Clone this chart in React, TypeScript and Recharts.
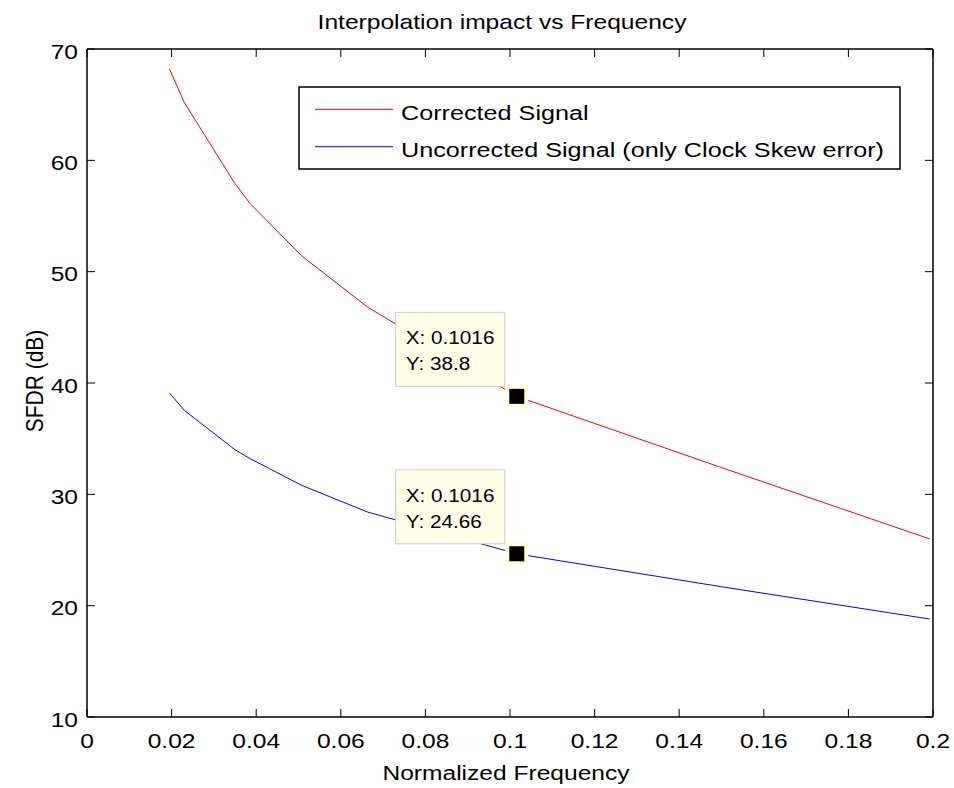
import React from 'react';
import { LineChart, Line, XAxis, YAxis, ReferenceDot } from 'recharts';

// ---- data ----
const freq = [0.0195, 0.023, 0.035, 0.0386, 0.0508, 0.0664, 0.1016, 0.15, 0.1992];
const corrected = [68.2, 65.2, 57.9, 56.1, 51.4, 46.8, 38.8, 32.4, 26.0];
const uncorrected = [39.1, 37.55, 34.0, 33.2, 30.8, 28.4, 24.66, 21.7, 18.8];
const seriesNames = ['Corrected Signal', 'Uncorrected Signal (only Clock Skew error)'];
const seriesKeys = ['corrected', 'uncorrected'];
const seriesColors = ['#ff0000', '#0000ff'];
const xTicks = [0, 0.02, 0.04, 0.06, 0.08, 0.1, 0.12, 0.14, 0.16, 0.18, 0.2];
const xTickLabels = ['0', '0.02', '0.04', '0.06', '0.08', '0.1', '0.12', '0.14', '0.16', '0.18', '0.2'];
const yTicks = [10, 20, 30, 40, 50, 60, 70];
const yTickLabels = ['10', '20', '30', '40', '50', '60', '70'];
const tipIndex = 6;
const tipXLabel = '0.1016';
const tipYLabels = ['38.8', '24.66'];
const title = 'Interpolation impact vs Frequency';
const xLabel = 'Normalized Frequency';
const yLabel = 'SFDR (dB)';

const data = freq.map((f, i) => ({ f, corrected: corrected[i], uncorrected: uncorrected[i] }));

const FONT = '"Liberation Sans", Arial, Helvetica, sans-serif';
const SX = 1.17;
const TICK_LEN = 8;

const BottomTick = (props: any) => {
  const { x, y, payload } = props;
  const idx = xTicks.indexOf(payload.value);
  return (
    <g>
      <line x1={x} y1={y} x2={x} y2={y - TICK_LEN} stroke="#000" strokeWidth={1} />
      <text
        transform={`translate(${x},${y + 31}) scale(${SX},1)`}
        textAnchor="middle"
        fontFamily={FONT}
        fontSize={21}
        fill="#000"
      >
        {idx >= 0 ? xTickLabels[idx] : String(payload.value)}
      </text>
    </g>
  );
};

const TopTick = (props: any) => {
  const { x, y } = props;
  return <line x1={x} y1={y} x2={x} y2={y + TICK_LEN} stroke="#000" strokeWidth={1} />;
};

const LeftTick = (props: any) => {
  const { x, y, payload } = props;
  const idx = yTicks.indexOf(payload.value);
  return (
    <g>
      <line x1={x} y1={y} x2={x + TICK_LEN} y2={y} stroke="#000" strokeWidth={1} />
      <text
        transform={`translate(${x - 9},${y + 9.5}) scale(${SX},1)`}
        textAnchor="end"
        fontFamily={FONT}
        fontSize={21}
        fill="#000"
      >
        {idx >= 0 ? yTickLabels[idx] : String(payload.value)}
      </text>
    </g>
  );
};

const RightTick = (props: any) => {
  const { x, y } = props;
  return <line x1={x} y1={y} x2={x - TICK_LEN} y2={y} stroke="#000" strokeWidth={1} />;
};

const makeTip = (yText: string) => (props: any) => {
  const { cx, cy } = props;
  if (cx == null || cy == null) return <g />;
  return (
    <g>
      <rect x={cx - 121} y={cy - 84} width={109} height={74} fill="#ffffe8" stroke="#cccccc" strokeWidth={1} />
      <text
        transform={`translate(${cx - 111},${cy - 52}) scale(1.12,1)`}
        fontFamily={FONT}
        fontSize={18.5}
        fill="#000"
      >
        {`X: ${tipXLabel}`}
      </text>
      <text
        transform={`translate(${cx - 111},${cy - 26}) scale(1.12,1)`}
        fontFamily={FONT}
        fontSize={18.5}
        fill="#000"
      >
        {`Y: ${yText}`}
      </text>
      <rect x={cx - 11.5} y={cy - 11.5} width={23} height={23} fill="#ffffe0" />
      <rect x={cx - 7.5} y={cy - 7.5} width={15} height={15} fill="#000" />
    </g>
  );
};

const axisLineStyle = { stroke: '#000', strokeWidth: 1.5 };

export default function App() {
  return (
    <div style={{ position: 'absolute', left: 0, top: 0, width: 954, height: 788, background: '#fff' }}>
      <LineChart width={954} height={788} data={data} margin={{ top: 48, right: 20, bottom: 70, left: 0 }}>
        <XAxis
          xAxisId="b"
          dataKey="f"
          type="number"
          domain={[0, 0.2]}
          ticks={xTicks}
          interval={0}
          height={1}
          tickSize={0}
          tickMargin={0}
          tickLine={false}
          axisLine={axisLineStyle}
          tick={<BottomTick />}
          allowDataOverflow
        />
        <XAxis
          xAxisId="t"
          dataKey="f"
          orientation="top"
          type="number"
          domain={[0, 0.2]}
          ticks={xTicks}
          interval={0}
          height={1}
          tickSize={0}
          tickMargin={0}
          tickLine={false}
          axisLine={axisLineStyle}
          tick={<TopTick />}
          allowDataOverflow
        />
        <YAxis
          yAxisId="l"
          type="number"
          domain={[10, 70]}
          ticks={yTicks}
          interval={0}
          width={87}
          tickSize={0}
          tickMargin={0}
          tickLine={false}
          axisLine={axisLineStyle}
          tick={<LeftTick />}
          allowDataOverflow
        />
        <YAxis
          yAxisId="r"
          orientation="right"
          type="number"
          domain={[10, 70]}
          ticks={yTicks}
          interval={0}
          width={1}
          tickSize={0}
          tickMargin={0}
          tickLine={false}
          axisLine={axisLineStyle}
          tick={<RightTick />}
          allowDataOverflow
        />
        {seriesKeys.map((k, i) => (
          <Line
            key={k}
            xAxisId="b"
            yAxisId="l"
            type="linear"
            dataKey={k}
            stroke={seriesColors[i]}
            strokeWidth={1}
            dot={false}
            activeDot={false}
            isAnimationActive={false}
          />
        ))}
        <ReferenceDot
          xAxisId="b"
          yAxisId="l"
          x={freq[tipIndex]}
          y={corrected[tipIndex]}
          shape={makeTip(tipYLabels[0])}
        />
        <ReferenceDot
          xAxisId="b"
          yAxisId="l"
          x={freq[tipIndex]}
          y={uncorrected[tipIndex]}
          shape={makeTip(tipYLabels[1])}
        />
      </LineChart>
      <svg
        width={954}
        height={788}
        style={{ position: 'absolute', left: 0, top: 0, pointerEvents: 'none' }}
      >
        <text transform={`translate(502,29) scale(1.2,1)`} textAnchor="middle" fontFamily={FONT} fontSize={20.5} fill="#000">
          {title}
        </text>
        <text transform={`translate(506,780) scale(${SX},1)`} textAnchor="middle" fontFamily={FONT} fontSize={21} fill="#000">
          {xLabel}
        </text>
        <text transform={`translate(43,381) rotate(-90) scale(1,${SX})`} textAnchor="middle" fontFamily={FONT} fontSize={21} fill="#000">
          {yLabel}
        </text>
        <rect x={299} y={87} width={601} height={82} fill="#fff" stroke="#000" strokeWidth={1.5} />
        {seriesNames.map((n, i) => (
          <g key={n}>
            <line x1={315} x2={393} y1={109.3 + i * 37.4} y2={109.3 + i * 37.4} stroke={seriesColors[i]} strokeWidth={1} />
            <text transform={`translate(401,${120 + i * 37}) scale(1.2,1)`} fontFamily={FONT} fontSize={21} fill="#000">
              {n}
            </text>
          </g>
        ))}
      </svg>
    </div>
  );
}
